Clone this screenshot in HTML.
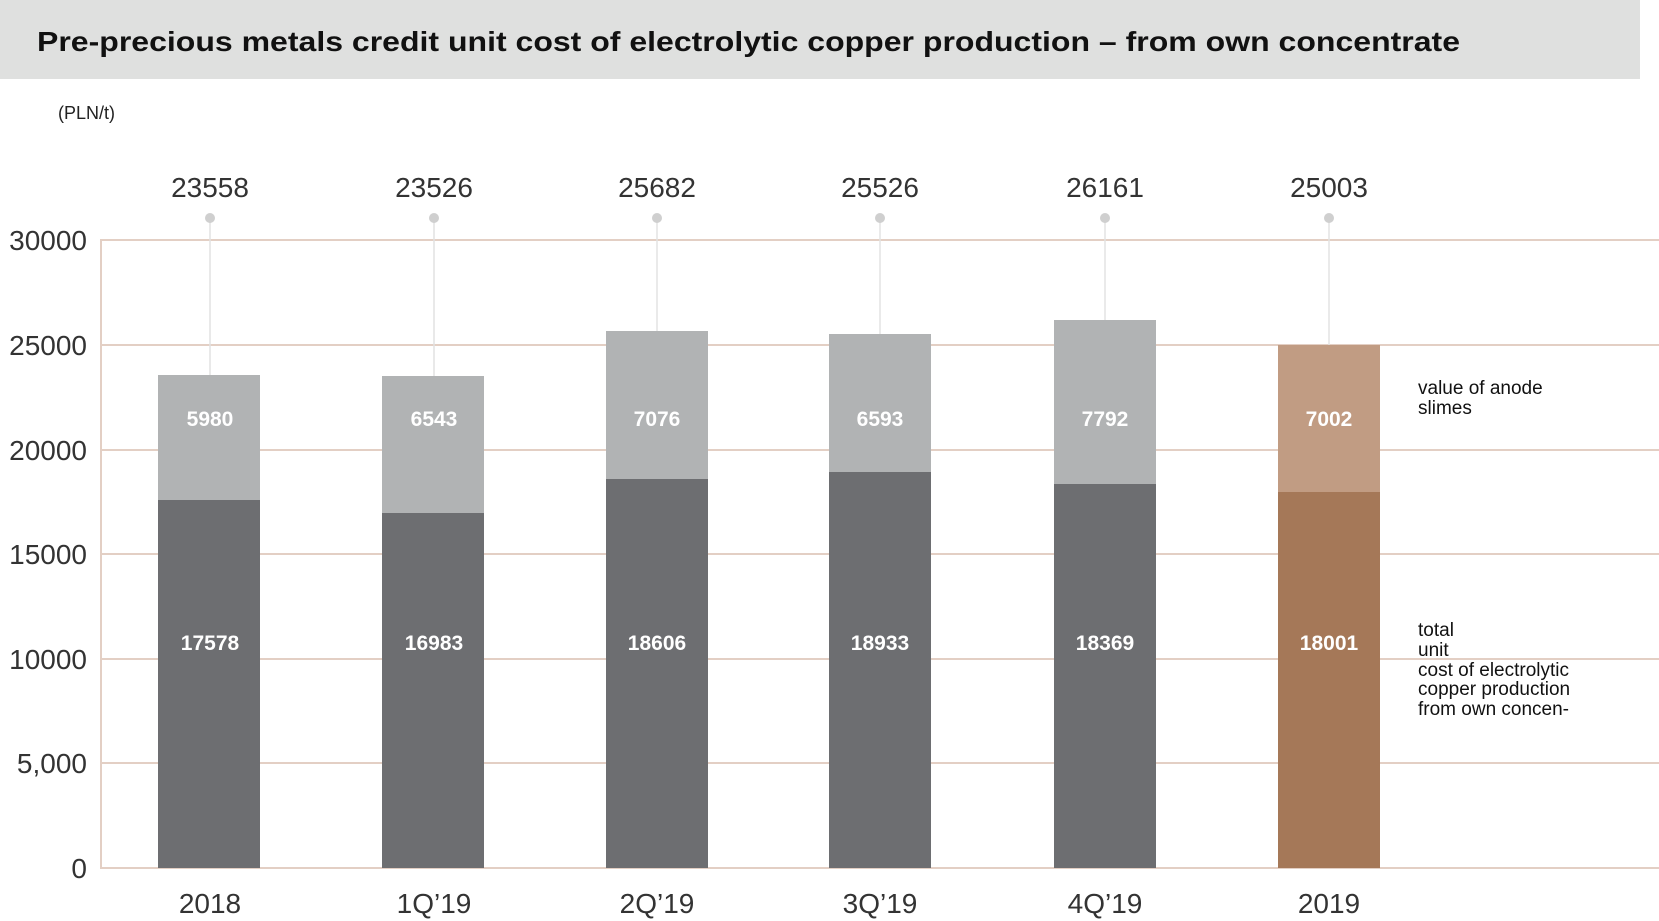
<!DOCTYPE html>
<html><head><meta charset="utf-8"><style>
html,body{margin:0;padding:0;background:#fff;width:1659px;height:921px;overflow:hidden}
svg{display:block;font-family:"Liberation Sans",sans-serif}
</style></head><body>
<svg width="1659" height="921" viewBox="0 0 1659 921">
<rect x="0" y="0" width="1640" height="79" fill="#dfe0df"/>
<text x="37" y="51" font-size="28" font-weight="bold" fill="#111" textLength="1423" lengthAdjust="spacingAndGlyphs">Pre-precious metals credit unit cost of electrolytic copper production – from own concentrate</text>
<text x="58" y="119" font-size="18" fill="#222">(PLN/t)</text>
<g stroke="#e3cfc4" stroke-width="2">
<line x1="100" y1="240" x2="1659" y2="240"/><line x1="100" y1="345" x2="1659" y2="345"/><line x1="100" y1="450" x2="1659" y2="450"/><line x1="100" y1="554" x2="1659" y2="554"/><line x1="100" y1="659" x2="1659" y2="659"/><line x1="100" y1="763" x2="1659" y2="763"/><line x1="100" y1="868" x2="1659" y2="868"/>
<line x1="101" y1="240" x2="101" y2="868"/>
</g>
<g font-size="28" fill="#333" text-anchor="end">
<text x="87" y="250">30000</text><text x="87" y="355">25000</text><text x="87" y="460">20000</text><text x="87" y="564">15000</text><text x="87" y="669">10000</text><text x="87" y="773">5,000</text><text x="87" y="878">0</text>
</g>
<g stroke="#e2e2e2" stroke-width="1.5">
<line x1="210" y1="218" x2="210" y2="375"/><line x1="434" y1="218" x2="434" y2="376"/><line x1="657" y1="218" x2="657" y2="331"/><line x1="880" y1="218" x2="880" y2="334"/><line x1="1105" y1="218" x2="1105" y2="320"/><line x1="1329" y1="218" x2="1329" y2="345"/>
</g>
<g fill="#cfcfcf">
<circle cx="210" cy="218" r="5"/><circle cx="434" cy="218" r="5"/><circle cx="657" cy="218" r="5"/><circle cx="880" cy="218" r="5"/><circle cx="1105" cy="218" r="5"/><circle cx="1329" cy="218" r="5"/>
</g>
<g font-size="28" fill="#333" text-anchor="middle">
<text x="210" y="197">23558</text><text x="434" y="197">23526</text><text x="657" y="197">25682</text><text x="880" y="197">25526</text><text x="1105" y="197">26161</text><text x="1329" y="197">25003</text>
<text x="210" y="913">2018</text><text x="434" y="913">1Q’19</text><text x="657" y="913">2Q’19</text><text x="880" y="913">3Q’19</text><text x="1105" y="913">4Q’19</text><text x="1329" y="913">2019</text>
</g>
<!-- bars: y = 868 - v*0.02093 -->
<rect x="158" y="375" width="102" height="125" fill="#b1b3b4"/><rect x="158" y="500" width="102" height="368" fill="#6d6e71"/>
<rect x="382" y="376" width="102" height="137" fill="#b1b3b4"/><rect x="382" y="513" width="102" height="355" fill="#6d6e71"/>
<rect x="606" y="331" width="102" height="148" fill="#b1b3b4"/><rect x="606" y="479" width="102" height="389" fill="#6d6e71"/>
<rect x="829" y="334" width="102" height="138" fill="#b1b3b4"/><rect x="829" y="472" width="102" height="396" fill="#6d6e71"/>
<rect x="1054" y="320" width="102" height="164" fill="#b1b3b4"/><rect x="1054" y="484" width="102" height="384" fill="#6d6e71"/>
<rect x="1278" y="345" width="102" height="147" fill="#c19c83"/><rect x="1278" y="492" width="102" height="376" fill="#a57858"/>
<g font-size="21" font-weight="bold" fill="#fff" text-anchor="middle">
<text x="210" y="426">5980</text><text x="434" y="426">6543</text><text x="657" y="426">7076</text><text x="880" y="426">6593</text><text x="1105" y="426">7792</text><text x="1329" y="426">7002</text>
<text x="210" y="650">17578</text><text x="434" y="650">16983</text><text x="657" y="650">18606</text><text x="880" y="650">18933</text><text x="1105" y="650">18369</text><text x="1329" y="650">18001</text>
</g>
<g font-size="19" fill="#111">
<text x="1418" y="394">value of anode</text><text x="1418" y="414">slimes</text>
<text x="1418" y="636">total</text><text x="1418" y="656">unit</text><text x="1418" y="676">cost of electrolytic</text><text x="1418" y="695">copper production</text><text x="1418" y="715">from own concen-</text>
</g>
</svg>
</body></html>
